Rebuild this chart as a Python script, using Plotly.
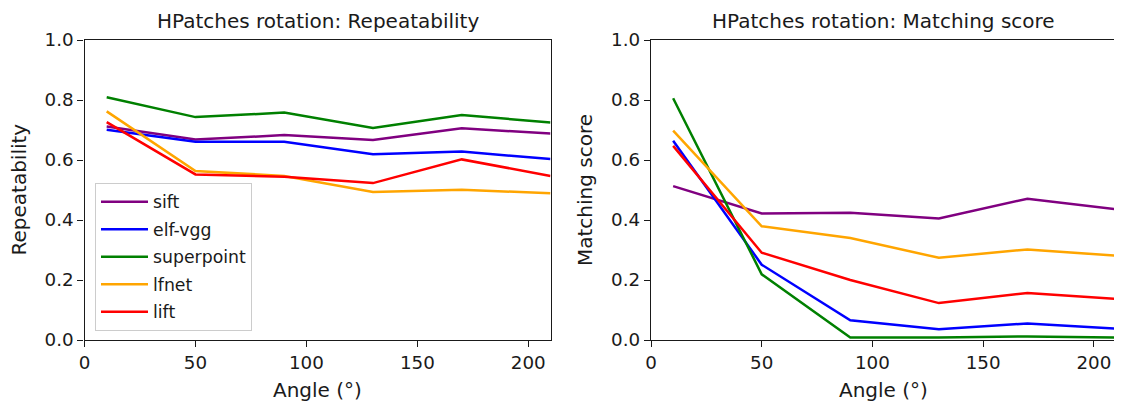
import plotly.graph_objects as go

angles = [10, 50, 90, 130, 170, 210]
methods = ["sift", "elf-vgg", "superpoint", "lfnet", "lift"]
colors = ["#800080", "#0000FF", "#008000", "#FFA500", "#FF0000"]

rep_sift = [0.712, 0.668, 0.683, 0.667, 0.706, 0.688]
rep_elf = [0.701, 0.661, 0.661, 0.619, 0.628, 0.603]
rep_superpoint = [0.809, 0.743, 0.758, 0.707, 0.750, 0.725]
rep_lfnet = [0.762, 0.563, 0.547, 0.493, 0.501, 0.489]
rep_lift = [0.726, 0.552, 0.544, 0.523, 0.602, 0.547]

ms_sift = [0.513, 0.422, 0.424, 0.405, 0.471, 0.436]
ms_elf = [0.664, 0.251, 0.066, 0.036, 0.055, 0.038]
ms_superpoint = [0.806, 0.219, 0.008, 0.008, 0.012, 0.008]
ms_lfnet = [0.698, 0.379, 0.340, 0.274, 0.302, 0.281]
ms_lift = [0.647, 0.291, 0.200, 0.123, 0.157, 0.137]

rep_series = [rep_sift, rep_elf, rep_superpoint, rep_lfnet, rep_lift]
ms_series = [ms_sift, ms_elf, ms_superpoint, ms_lfnet, ms_lift]

titles = ["HPatches rotation: Repeatability", "HPatches rotation: Matching score"]
ylabels = ["Repeatability", "Matching score"]
xlabel = "Angle (°)"

# page body has an 8px margin: the figure occupies screen px 8..1122 / 8..407
OFF = 8
W, H = 1122 - OFF, 407 - OFF
FONT = "DejaVu Sans"
TXT = "#1a1a1a"

# screen-pixel geometry of the reference
left_dom = (84.5, 550.5)
right_dom = (651.0, 1116.0)
top_px, bot_px = 40.0, 340.0


def px_x(p):
    return (p - OFF) / W


def px_y(p):
    return 1 - (p - OFF) / H


fig = go.Figure()

for i, (name, col) in enumerate(zip(methods, colors)):
    fig.add_trace(go.Scatter(x=angles, y=rep_series[i], mode="lines", name=name,
                             line=dict(color=col, width=2.5), xaxis="x", yaxis="y",
                             legendgroup=name, showlegend=True))
for i, (name, col) in enumerate(zip(methods, colors)):
    fig.add_trace(go.Scatter(x=angles, y=ms_series[i], mode="lines", name=name,
                             line=dict(color=col, width=2.5), xaxis="x2", yaxis="y2",
                             legendgroup=name, showlegend=False))

axis_common = dict(showline=True, mirror=True, linecolor=TXT, linewidth=1.3,
                   ticks="outside", ticklen=6, tickwidth=1.3, tickcolor=TXT,
                   showgrid=False, zeroline=False, automargin=False,
                   tickfont=dict(family=FONT, size=18.3, color=TXT))

xdom_l = [px_x(left_dom[0]), px_x(left_dom[1])]
xdom_r = [px_x(right_dom[0]), px_x(right_dom[1])]
ydom = [px_y(bot_px), px_y(top_px)]

fig.update_layout(
    width=W, height=H,
    margin=dict(l=0, r=0, t=0, b=0),
    paper_bgcolor="white", plot_bgcolor="white",
    font=dict(family=FONT, size=17.3, color=TXT),
    xaxis=dict(domain=xdom_l, range=[0, 210], tickvals=[0, 50, 100, 150, 200], anchor="y", **axis_common),
    yaxis=dict(domain=ydom, range=[0, 1], tickvals=[0, 0.2, 0.4, 0.6, 0.8, 1.0], tickformat=".1f", anchor="x", **axis_common),
    xaxis2=dict(domain=xdom_r, range=[0, 210], tickvals=[0, 50, 100, 150, 200], anchor="y2", **axis_common),
    yaxis2=dict(domain=ydom, range=[0, 1], tickvals=[0, 0.2, 0.4, 0.6, 0.8, 1.0], tickformat=".1f", anchor="x2", **axis_common),
    legend=dict(x=px_x(95), y=px_y(183), xanchor="left", yanchor="top",
                bgcolor="rgba(255,255,255,0.8)", bordercolor="#cccccc", borderwidth=1,
                font=dict(family=FONT, size=17.3, color=TXT),
                traceorder="grouped", tracegroupgap=2, itemwidth=47),
    showlegend=True,
)

annots = []
for dom, title, ylab in [(left_dom, titles[0], ylabels[0]), (right_dom, titles[1], ylabels[1])]:
    cx = (dom[0] + dom[1]) / 2
    annots.append(dict(text=title, x=px_x(cx), y=px_y(21), xref="paper", yref="paper",
                       xanchor="center", yanchor="middle", showarrow=False,
                       font=dict(family=FONT, size=20, color=TXT)))
    annots.append(dict(text=xlabel, x=px_x(cx), y=px_y(390), xref="paper", yref="paper",
                       xanchor="center", yanchor="middle", showarrow=False,
                       font=dict(family=FONT, size=20, color=TXT)))
    annots.append(dict(text=ylab, x=px_x(dom[0] - 66), y=px_y((top_px + bot_px) / 2), xref="paper", yref="paper",
                       xanchor="center", yanchor="middle", showarrow=False, textangle=-90,
                       font=dict(family=FONT, size=20, color=TXT)))
fig.update_layout(annotations=annots)

fig.write_html("out.html")
